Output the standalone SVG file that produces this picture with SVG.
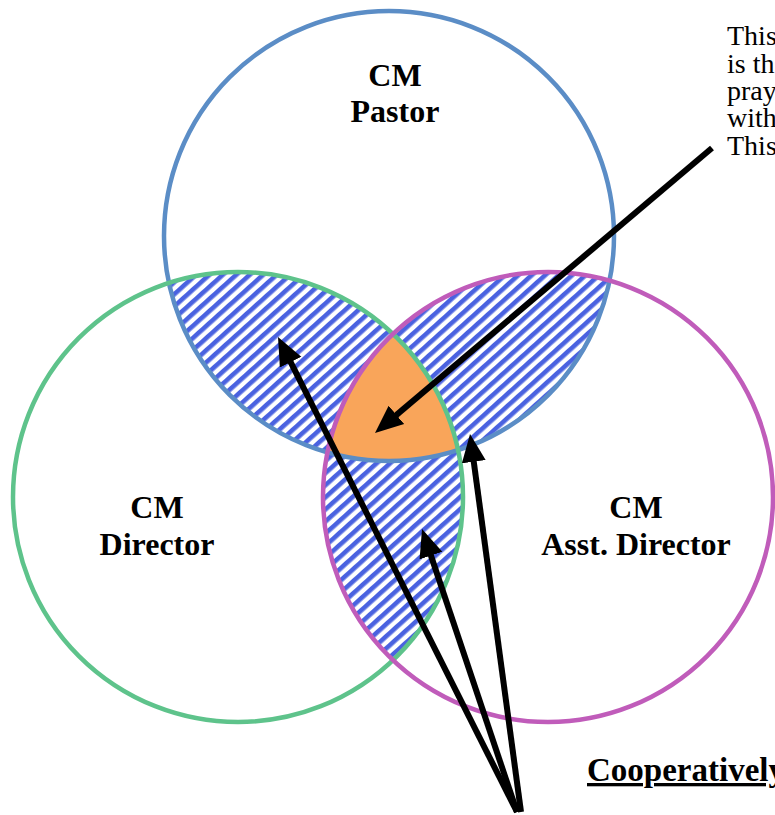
<svg xmlns="http://www.w3.org/2000/svg" width="775" height="815" viewBox="0 0 775 815">
<style>
.ring{fill:none;stroke-width:4.5}
.lbl{font-family:'Liberation Serif','DejaVu Serif',serif;font-weight:bold;font-size:32px;text-anchor:middle;fill:#000}
.note{font-family:'Liberation Serif','DejaVu Serif',serif;font-size:28px;fill:#000}
.coop{font-family:'Liberation Serif','DejaVu Serif',serif;font-weight:bold;font-size:33px;text-decoration:underline;fill:#000}
.arrow{stroke:#000;stroke-width:6;fill:none;marker-end:url(#ah)}
</style>
<defs>
<pattern id="hatch" patternUnits="userSpaceOnUse" width="9" height="9" patternTransform="rotate(-42)">
<rect width="9" height="9" fill="#ffffff"/>
<rect width="9" height="4.6" fill="#4a62e0"/>
</pattern>
<clipPath id="cP"><circle cx="389" cy="236" r="225"/></clipPath>
<clipPath id="cD"><circle cx="238" cy="497" r="225"/></clipPath>
<marker id="ah" markerUnits="userSpaceOnUse" markerWidth="30" markerHeight="26" refX="8" refY="12" orient="auto" viewBox="0 0 30 24">
<path d="M0,0 L28,12 L0,24 z" fill="#000"/>
</marker>
</defs>
<rect width="775" height="815" fill="#ffffff"/>
<g id="overlaps">
<g clip-path="url(#cP)"><circle cx="238" cy="497" r="225" fill="url(#hatch)"/><circle cx="548" cy="497" r="225" fill="url(#hatch)"/></g>
<g clip-path="url(#cD)"><circle cx="548" cy="497" r="225" fill="url(#hatch)"/></g>
<g clip-path="url(#cP)"><g clip-path="url(#cD)"><circle cx="548" cy="497" r="225" fill="#f9a55a"/></g></g>
</g>
<g id="pastor">
<circle class="ring" cx="389" cy="236" r="225" stroke="#5b8dc6"/>
<text class="lbl" x="395" y="86">CM</text>
<text class="lbl" x="395" y="122">Pastor</text>
</g>
<g id="director">
<circle class="ring" cx="238" cy="497" r="225" stroke="#5ec38b"/>
<text class="lbl" x="157" y="518">CM</text>
<text class="lbl" x="157" y="555">Director</text>
</g>
<g id="asst">
<circle class="ring" cx="548" cy="497" r="225" stroke="#c05cba"/>
<text class="lbl" x="636" y="518">CM</text>
<text class="lbl" x="636" y="555">Asst. Director</text>
</g>
<g id="note">
<text class="note" x="727" y="45">This</text>
<text class="note" x="727" y="73">is th</text>
<text class="note" x="727" y="100">pray</text>
<text class="note" x="727" y="127">with</text>
<text class="note" x="727" y="155">This</text>
</g>
<g id="coop">
<text class="coop" x="587" y="781">Cooperatively</text>
</g>
<g id="connectors">
<line class="arrow" x1="712" y1="148" x2="390.3" y2="420.1"/>
<line class="arrow" x1="517" y1="812" x2="287" y2="354.9"/>
<line class="arrow" x1="517" y1="812" x2="428.4" y2="548"/>
<line class="arrow" x1="521" y1="812" x2="472.7" y2="453.8"/>
</g>
</svg>
